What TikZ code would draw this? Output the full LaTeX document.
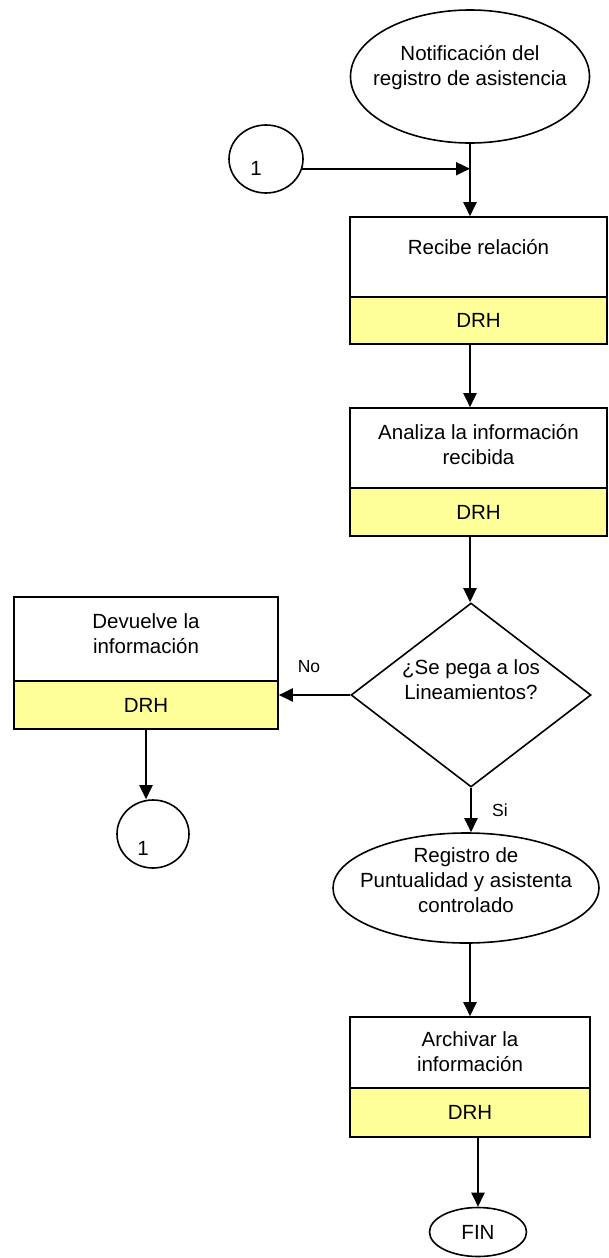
\documentclass[tikz,border=0pt]{standalone}
\usepackage{fontspec}
\setmainfont{Liberation Sans}
\usetikzlibrary{shapes.geometric,arrows.meta}
\definecolor{drhyellow}{RGB}{255,255,153}
\tikzset{
  shp/.style={draw=black, line width=1.6pt},
  conn/.style={line width=2.2pt, -{Triangle[length=14pt,width=13pt]}},
  txt/.style={align=center, inner sep=0pt, font=\fontsize{20.5}{25}\selectfont},
  lbl/.style={inner sep=0pt, font=\fontsize{17.5}{21}\selectfont},
  whitebox/.style={shp, rectangle, fill=white, inner sep=0pt},
  yellowbox/.style={shp, rectangle, fill=drhyellow, inner sep=0pt},
  oval/.style={shp, ellipse, inner sep=0pt},
}
\begin{document}
\begin{tikzpicture}[x=1pt,y=-1pt]
\useasboundingbox (0,0) rectangle (608,1258);

% top ellipse
\node[oval, minimum width=239pt, minimum height=133pt] (e1) at (470,76.5) {};
\node[txt] (e1t) at (470,68) {Notificación del\\registro de asistencia};

% connector circle top
\node[oval, minimum width=74pt, minimum height=68pt] (c1) at (266,159) {};
\node[txt] (c1t) at (256,168) {1};
\coordinate (j1) at (470,168);

% box 1
\node[whitebox, minimum width=257pt, minimum height=80pt] (b1w) at (478.5,257) {};
\node[yellowbox, minimum width=257pt, minimum height=47pt] (b1y) at (478.5,320.5) {};
\node[txt] (b1t) at (478.5,247) {Recibe relación};
\node[txt] (b1d) at (b1y) {DRH};

% box 2
\node[whitebox, minimum width=257pt, minimum height=80pt] (b2w) at (478.5,448) {};
\node[yellowbox, minimum width=257pt, minimum height=48pt] (b2y) at (478.5,512) {};
\node[txt] (b2t) at (478.5,444.5) {Analiza la información\\recibida};
\node[txt] (b2d) at (b2y) {DRH};

% decision
\node[shp, diamond, minimum width=240pt, minimum height=184pt, inner sep=0pt] (d) at (471,695) {};
\node[txt] (dt) at (471,680) {¿Se pega a los\\Lineamientos?};

% box 3
\node[whitebox, minimum width=264pt, minimum height=84pt] (b3w) at (146,639) {};
\node[yellowbox, minimum width=264pt, minimum height=48pt] (b3y) at (146,705) {};
\node[txt] (b3t) at (146,634) {Devuelve la\\información};
\node[txt] (b3d) at (b3y) {DRH};

% connector circle bottom
\node[oval, minimum width=72pt, minimum height=68pt] (c2) at (153,834) {};
\node[txt] (c2t) at (143,848) {1};

% ellipse 2
\node[oval, minimum width=266pt, minimum height=110pt] (e2) at (466,888) {};
\node[txt] (e2t) at (466,880) {Registro de\\Puntualidad y asistenta\\controlado};

% box 4
\node[whitebox, minimum width=240pt, minimum height=71pt] (b4w) at (470,1052.5) {};
\node[yellowbox, minimum width=240pt, minimum height=49pt] (b4y) at (470,1112.5) {};
\node[txt] (b4t) at (470,1052) {Archivar la\\información};
\node[txt] (b4d) at (b4y) {DRH};

% FIN
\node[oval, minimum width=97pt, minimum height=49pt] (fin) at (478,1232) {};
\node[txt] (fint) at (fin) {FIN};

% connectors
\draw[conn] (c1.-15) -- (c1.-15 -| j1);
\draw[conn] (e1.south) -- (e1.south |- b1w.north);
\draw[conn] (e1 |- b1y.south) -- (e1 |- b2w.north);
\draw[conn] (e1 |- b2y.south) -- (e1 |- d.north);
\draw[conn] (d.west) -- (d.west -| b3y.east);
\draw[conn] (b3y.south) -- (b3y.south |- c2.north);
\draw[conn] (d.south) -- (d.south |- e2.north);
\draw[conn] (e1 |- e2.south) -- (e1 |- b4w.north);
\draw[conn] (fin |- b4y.south) -- (fin.north);

% labels
\node[lbl] (no) at (309,667) {No};
\node[lbl] (si) at (500,810) {Si};
\end{tikzpicture}
\end{document}
